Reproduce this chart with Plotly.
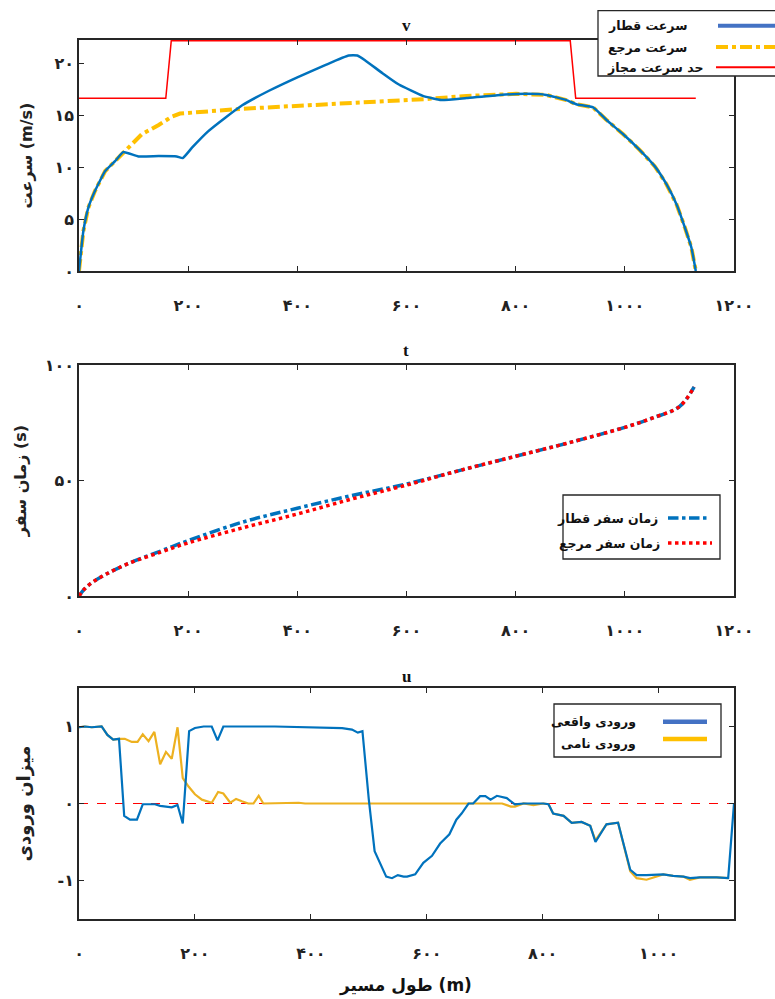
import plotly.graph_objects as go

# ---------------- data ----------------
# speed plot (v)
dist_v = [0, 8, 17, 29, 48, 66, 81, 109, 146, 179, 190, 207, 237, 268, 299, 348, 400, 452, 494, 510,
          525, 556, 586, 630, 664, 710, 771, 820, 856, 893, 911, 942, 966, 997, 1027, 1055, 1076, 1095,
          1110, 1122, 1130]
v_train = [0, 3.86, 6.1, 7.7, 9.65, 10.6, 11.48, 11.06, 11.09, 11.06, 10.9, 11.9, 13.5, 14.8, 16.0, 17.4,
           18.7, 19.9, 20.8, 20.8, 20.3, 19.1, 18.0, 16.9, 16.5, 16.7, 17.0, 17.1, 17.0, 16.5, 16.1, 15.8,
           14.6, 13.2, 11.7, 10.1, 8.4, 6.4, 4.2, 2.25, 0]
dist_ref = [0, 8, 17, 29, 48, 66, 81, 115, 146, 170, 185, 237, 299, 421, 543, 635, 710, 801, 856, 893,
            911, 942, 966, 997, 1027, 1055, 1076, 1095, 1110, 1122, 1130]
v_ref = [0, 3.86, 6.1, 7.7, 9.65, 10.6, 11.5, 13.2, 14.1, 14.9, 15.2, 15.4, 15.66, 16.0, 16.3, 16.6,
         16.9, 17.1, 17.0, 16.5, 16.1, 15.8, 14.6, 13.2, 11.7, 10.1, 8.4, 6.4, 4.2, 2.25, 0]
dist_lim = [0, 159, 169, 900, 910, 1130]
v_lim = [16.67, 16.67, 22.22, 22.22, 16.67, 16.67]

# travel time plot (t)
dist_t = [0, 10, 25, 50, 90, 150, 200, 300, 400, 500, 600, 700, 800, 900, 1000, 1050, 1100, 1127]
t_train = [0, 3, 6, 9.5, 14, 19.5, 24, 32, 38, 43.5, 48.5, 54.5, 60.5, 66.5, 73, 77, 82, 90.5]
t_ref = [0, 3, 6, 9.5, 14, 19, 23, 29.5, 35.5, 42, 48, 54.5, 60.5, 66.5, 73, 77, 82, 90.5]

# control input plot (u)
dist_u_act = [0, 10, 22, 39, 49, 59, 69, 78, 88, 100, 110, 131, 140, 160, 170, 179, 190, 200, 215, 229,
              239, 249, 338, 425, 454, 471, 481, 489, 500, 510, 520, 530, 540, 550, 560, 566, 580, 594,
              609, 623, 639, 651, 660, 672, 680, 692, 701, 710, 721, 738, 752, 767, 784, 801, 810, 818,
              836, 850, 867, 882, 891, 910, 930, 951, 962, 979, 1008, 1025, 1043, 1054, 1071, 1100,
              1120, 1130]
u_act = [0.99, 1.0, 0.99, 1.0, 0.89, 0.83, 0.84, -0.16, -0.21, -0.21, -0.01, -0.01, -0.03, -0.05, -0.02,
         -0.26, 0.94, 0.98, 1.0, 1.0, 0.82, 1.0, 1.0, 0.99, 0.98, 0.96, 0.92, 0.94, 0.05, -0.62, -0.79,
         -0.95, -0.97, -0.93, -0.95, -0.95, -0.92, -0.77, -0.68, -0.52, -0.40, -0.21, -0.13, 0.0, 0.0,
         0.095, 0.095, 0.05, 0.10, 0.07, -0.01, 0.0, 0.0, 0.0, -0.01, -0.13, -0.16, -0.25, -0.24, -0.29,
         -0.50, -0.27, -0.25, -0.86, -0.93, -0.93, -0.92, -0.94, -0.95, -0.97, -0.96, -0.96, -0.97, 0.0]
dist_u_nom = [0, 10, 22, 39, 49, 59, 69, 79, 91, 101, 110, 120, 130, 140, 150, 160, 170, 179, 189, 200,
              212, 229, 240, 249, 261, 271, 281, 292, 301, 310, 318, 379, 390, 672, 730, 745, 752, 767,
              784, 801, 810, 818, 836, 850, 867, 882, 891, 910, 930, 951, 962, 979, 1008, 1025, 1043,
              1054, 1071, 1100, 1120]
u_nom = [0.99, 1.0, 0.99, 1.0, 0.89, 0.83, 0.84, 0.84, 0.80, 0.80, 0.90, 0.81, 0.93, 0.51, 0.67, 0.58,
         0.99, 0.33, 0.22, 0.12, 0.05, 0.01, 0.15, 0.13, 0.01, 0.06, 0.03, 0.0, 0.0, 0.10, 0.0, 0.01, 0.0,
         0.0, 0.0, -0.04, -0.04, 0.0, -0.02, 0.0, -0.01, -0.13, -0.16, -0.25, -0.24, -0.29, -0.48, -0.27,
         -0.25, -0.88, -0.97, -0.99, -0.92, -0.94, -0.95, -0.99, -0.96, -0.96, -0.97]
dist_zero = [0, 1130]
u_zero = [0, 0]

# ticks
x_ticks = [0, 200, 400, 600, 800, 1000, 1200]
x_ticktext = ["۰", "۲۰۰", "۴۰۰", "۶۰۰", "۸۰۰", "۱۰۰۰", "۱۲۰۰"]
x3_ticks = [0, 200, 400, 600, 800, 1000]
x3_ticktext = ["۰", "۲۰۰", "۴۰۰", "۶۰۰", "۸۰۰", "۱۰۰۰"]
v_ticks = [0, 5, 10, 15, 20]
v_ticktext = ["۰", "۵", "۱۰", "۱۵", "۲۰"]
t_ticks = [0, 50, 100]
t_ticktext = ["۰", "۵۰", "۱۰۰"]
u_ticks = [-1, 0, 1]
u_ticktext = ["-۱", "۰", "۱"]

# text
legend_v = ["سرعت قطار", "سرعت مرجع", "حد سرعت مجاز"]
legend_t = ["زمان سفر قطار", "زمان سفر مرجع"]
legend_u = ["ورودی واقعی", "ورودی نامی"]
ylab_v = "سرعت (m/s)"
ylab_t = "زمان سفر (s)"
ylab_u = "میزان ورودی"
xlab = "طول مسیر (m)"

# ---------------- styling ----------------
W, H = 775, 999
L, R = 79, 734
FONT = "Liberation Serif, DejaVu Sans, serif"
FA = "DejaVu Sans, sans-serif"
BLUE = "#0072BD"
YEL = "#FFC000"
RED = "#FF0000"
AX = "#262626"


def px(x):
    return (x - L) / (R - L)


def py(y):
    return 1 - y / H


fig = go.Figure()
fig.add_trace(go.Scatter(x=dist_ref, y=v_ref, mode="lines", line=dict(color=YEL, width=4, dash="dashdot"),
                         xaxis="x", yaxis="y", showlegend=False))
fig.add_trace(go.Scatter(x=dist_v, y=v_train, mode="lines", line=dict(color=BLUE, width=2.5, shape="spline", smoothing=0.4),
                         xaxis="x", yaxis="y", showlegend=False))
fig.add_trace(go.Scatter(x=dist_lim, y=v_lim, mode="lines", line=dict(color=RED, width=1.5),
                         xaxis="x", yaxis="y", showlegend=False))

fig.add_trace(go.Scatter(x=dist_t, y=t_train, mode="lines", line=dict(color=BLUE, width=3.5, dash="dashdot", shape="spline"),
                         xaxis="x2", yaxis="y2", showlegend=False))
fig.add_trace(go.Scatter(x=dist_t, y=t_ref, mode="lines", line=dict(color=RED, width=3.5, dash="dot", shape="spline"),
                         xaxis="x2", yaxis="y2", showlegend=False))

fig.add_trace(go.Scatter(x=dist_zero, y=u_zero, mode="lines", line=dict(color=RED, width=1.2, dash="dash"),
                         xaxis="x3", yaxis="y3", showlegend=False))
fig.add_trace(go.Scatter(x=dist_u_nom, y=u_nom, mode="lines", line=dict(color="#EDB120", width=2.2),
                         xaxis="x3", yaxis="y3", showlegend=False))
fig.add_trace(go.Scatter(x=dist_u_act, y=u_act, mode="lines", line=dict(color=BLUE, width=2.2),
                         xaxis="x3", yaxis="y3", showlegend=False))

axis_common = dict(showline=True, linecolor=AX, linewidth=1.6, mirror="ticks", ticks="inside", ticklen=5,
                   tickcolor=AX, tickwidth=1.2, showgrid=False, zeroline=False, automargin=False,
                   tickfont=dict(family=FA, size=16, color="#222", weight="bold"))

ytitle_font = dict(family=FA, size=16, color="#222", weight="bold")

fig.update_layout(
    width=W, height=H, margin=dict(l=L, r=W - R, t=0, b=0, autoexpand=False),
    paper_bgcolor="white", plot_bgcolor="white", showlegend=False,
    xaxis=dict(domain=[0, 1], anchor="y", range=[0, 1200], tickvals=x_ticks, ticktext=x_ticktext,
               ticklabelstandoff=19, **axis_common),
    yaxis=dict(domain=[py(271), py(40)], anchor="x", range=[0, 22.3], tickvals=v_ticks, ticktext=v_ticktext,
               title=dict(text=ylab_v, font=ytitle_font, standoff=18),
               **axis_common),
    xaxis2=dict(domain=[0, 1], anchor="y2", range=[0, 1200], tickvals=x_ticks, ticktext=x_ticktext,
                ticklabelstandoff=19, **axis_common),
    yaxis2=dict(domain=[py(596), py(365)], anchor="x2", range=[0, 100], tickvals=t_ticks, ticktext=t_ticktext,
                title=dict(text=ylab_t, font=ytitle_font, standoff=14),
                **axis_common),
    xaxis3=dict(domain=[0, 1], anchor="y3", range=[0, 1130], tickvals=x3_ticks, ticktext=x3_ticktext,
                ticklabelstandoff=19, **axis_common),
    yaxis3=dict(domain=[py(919), py(688)], anchor="x3", range=[-1.5, 1.5], tickvals=u_ticks, ticktext=u_ticktext,
                title=dict(text=ylab_u, font=dict(family=FA, size=18, color="#222", weight="bold"), standoff=22),
                **axis_common),
)

# subplot titles
for txt, yy in [("v", 26), ("t", 351), ("u", 676)]:
    fig.add_annotation(x=px(406), y=py(yy), xref="paper", yref="paper", text="<b>" + txt + "</b>",
                       xanchor="center", yanchor="middle",
                       showarrow=False, font=dict(family=FONT, size=17, color="#111"))

# x-axis title of the bottom plot
fig.add_annotation(x=px(405), y=py(985), xref="paper", yref="paper", text=xlab, showarrow=False,
                   xanchor="center", yanchor="middle",
                   font=dict(family=FA, size=17, color="#111", weight="bold"))

shapes = []
annots = []


def box(x0, x1, y0, y1):
    shapes.append(dict(type="rect", xref="paper", yref="paper", x0=px(x0), x1=px(x1), y0=py(y1), y1=py(y0),
                       line=dict(color=AX, width=1.3), fillcolor="white", layer="above"))


def sample(x0, x1, y, color, width, dash="solid"):
    shapes.append(dict(type="line", xref="paper", yref="paper", x0=px(x0), x1=px(x1), y0=py(y), y1=py(y),
                       line=dict(color=color, width=width, dash=dash), layer="above"))


def label(text, xr, y, size=12.5):
    annots.append(dict(x=px(xr), y=py(y), xref="paper", yref="paper", text=text,
                       xanchor="right", yanchor="middle", showarrow=False,
                       font=dict(family=FA, size=size, color="#111", weight="bold")))


# legend v
box(598, 790, 10.7, 76)
sample(718, 775, 25.7, "#4472C4", 4)
sample(716, 775, 47, YEL, 4, "dashdot")
sample(716, 775, 67.3, RED, 2)
label(legend_v[0], 689, 25.7)
label(legend_v[1], 689, 47)
label(legend_v[2], 705, 67.3)

# legend t
box(563, 720, 495, 559)
sample(668, 707, 518, BLUE, 3.5, "dashdot")
sample(668, 712, 543, RED, 3.5, "dot")
label(legend_t[0], 660, 518)
label(legend_t[1], 662, 543)

# legend u
box(554, 721, 704, 757)
sample(663, 707, 721.7, "#4472C4", 4.5)
sample(663, 707, 739, YEL, 4.5)
label(legend_u[0], 638, 721.7)
label(legend_u[1], 638, 743)

fig.update_layout(shapes=shapes)
for a in annots:
    fig.add_annotation(**a)

fig.write_html("out.html")
